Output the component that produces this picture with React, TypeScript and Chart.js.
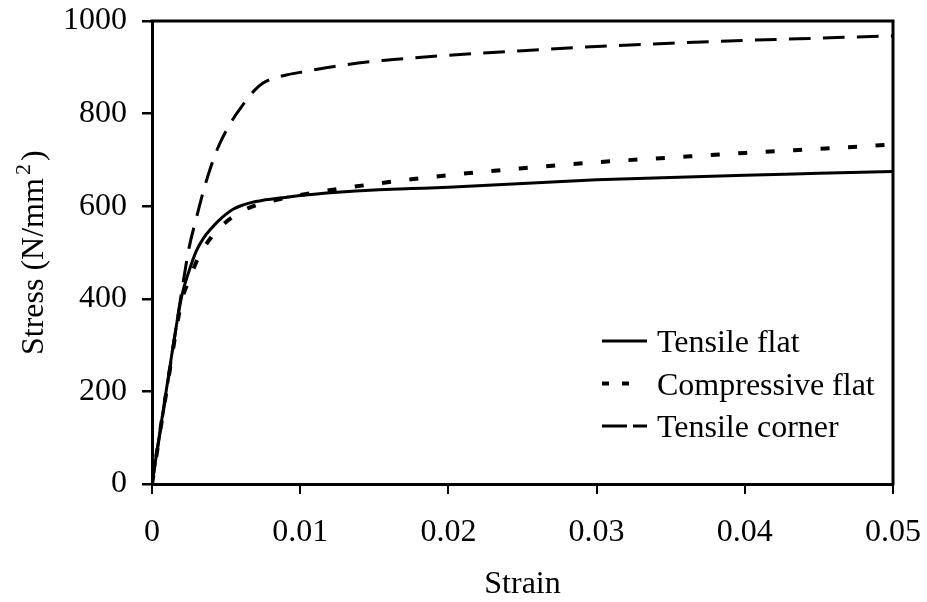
import React, { useEffect, useRef } from "react";
import { Chart, registerables } from "chart.js";

Chart.register(...registerables);

// ---- data ----
const strain = [0, 0.001, 0.002, 0.0025, 0.003, 0.0035, 0.004, 0.0045, 0.005, 0.0055, 0.006, 0.0065, 0.007, 0.0075, 0.008, 0.009, 0.01, 0.0125, 0.015, 0.0175, 0.02, 0.025, 0.03, 0.035, 0.04, 0.045, 0.05];
const tensileFlat = [0, 210, 405, 460, 504, 532, 552, 569, 583, 594, 601, 606, 610, 613, 615, 619, 623, 630, 635, 638, 641, 649, 657, 662, 667, 671, 675];
const compressiveFlat = [0, 205, 395, 440, 480, 510, 533, 551, 566, 578, 588, 596, 602, 607, 611, 618, 624, 637, 648, 658, 667, 682, 695, 705, 715, 724, 733];
const tensileCorner = [0, 205, 415, 510, 575, 636, 688, 730, 763, 790, 813, 835, 853, 866, 874, 883, 889, 903, 913, 920, 926, 936, 945, 952, 958, 963, 968];
const seriesNames = ["Tensile flat", "Compressive flat", "Tensile corner"];

const xTickValues = [0, 0.01, 0.02, 0.03, 0.04, 0.05];
const xTickLabels = ["0", "0.01", "0.02", "0.03", "0.04", "0.05"];
const yTickValues = [0, 200, 400, 600, 800, 1000];
const yTickLabels = ["0", "200", "400", "600", "800", "1000"];
const xTitle = "Strain";
const yTitleMain = "Stress (N/mm";
const yTitleSup = "2";
const yTitleEnd = ")";

const FONT = "Liberation Serif";

const seriesStyles = [
  { width: 3, dash: [] as number[], legendDash: [] as number[], legendLen: 45 },
  { width: 4, dash: [9, 18.5], legendDash: [7, 13], legendLen: 27 },
  { width: 3, dash: [21.7, 12.3], legendDash: [25, 6], legendLen: 45 },
];

const toPoints = (ys: number[]) => strain.map((x, i) => ({ x, y: ys[i] }));

const framePlugin = {
  id: "frame",
  afterDraw(chart: any) {
    const { ctx, chartArea } = chart;
    const { left, right, top, bottom } = chartArea;
    ctx.save();
    ctx.strokeStyle = "#000";
    ctx.lineWidth = 3;
    ctx.beginPath();
    ctx.moveTo(left - 1.5, top);
    ctx.lineTo(right, top);
    ctx.lineTo(right, bottom + 1.5);
    ctx.stroke();

    // y-axis title with superscript
    ctx.fillStyle = "#000";
    ctx.translate(43, 355);
    ctx.rotate(-Math.PI / 2);
    ctx.textBaseline = "alphabetic";
    ctx.textAlign = "left";
    ctx.font = `32px "${FONT}"`;
    ctx.fillText(yTitleMain, 0, 0);
    const w1 = ctx.measureText(yTitleMain).width;
    ctx.font = `22px "${FONT}"`;
    ctx.fillText(yTitleSup, w1 + 3, -13);
    const w2 = ctx.measureText(yTitleSup).width;
    ctx.font = `32px "${FONT}"`;
    ctx.fillText(yTitleEnd, w1 + w2 + 6, 0);
    ctx.restore();
  },
};

const legendPlugin = {
  id: "customLegend",
  afterDatasetsDraw(chart: any) {
    const { ctx, chartArea } = chart;
    const x0 = chartArea.right - 291;
    const baseY = 352;
    const step = 42.5;
    ctx.save();
    ctx.fillStyle = "#000";
    ctx.strokeStyle = "#000";
    ctx.font = `32px "${FONT}"`;
    ctx.textBaseline = "alphabetic";
    ctx.textAlign = "left";
    seriesNames.forEach((name, i) => {
      const by = baseY + i * step;
      const ly = by - 11;
      const st = seriesStyles[i];
      ctx.lineWidth = st.width;
      ctx.lineCap = "butt";
      ctx.setLineDash(st.legendDash);
      ctx.beginPath();
      ctx.moveTo(x0, ly);
      ctx.lineTo(x0 + st.legendLen, ly);
      ctx.stroke();
      ctx.setLineDash([]);
      ctx.fillText(name, x0 + 55, by);
    });
    ctx.restore();
  },
};

export default function App() {
  const canvasRef = useRef<HTMLCanvasElement | null>(null);

  useEffect(() => {
    if (!canvasRef.current) return;
    const allSeries = [tensileFlat, compressiveFlat, tensileCorner];
    const chart = new Chart(canvasRef.current, {
      type: "line",
      data: {
        datasets: allSeries.map((ys, i) => ({
          label: seriesNames[i],
          data: toPoints(ys),
          borderColor: "#000",
          backgroundColor: "#000",
          borderWidth: seriesStyles[i].width,
          borderDash: seriesStyles[i].dash,
          borderCapStyle: "butt" as const,
          pointRadius: 0,
          fill: false,
          cubicInterpolationMode: "monotone" as const,
        })),
      },
      options: {
        animation: false,
        responsive: false,
        devicePixelRatio: 1,
        layout: { padding: { top: 21, right: 34, bottom: 0, left: 0 } },
        plugins: {
          legend: { display: false },
          tooltip: { enabled: false },
        },
        scales: {
          x: {
            type: "linear",
            min: 0,
            max: 0.05,
            afterBuildTicks: (scale: any) => {
              scale.ticks = xTickValues.map((v) => ({ value: v }));
            },
            afterFit: (scale: any) => {
              scale.height = 118;
              scale.paddingLeft = 0;
              scale.paddingRight = 0;
            },
            ticks: {
              autoSkip: false,
              maxRotation: 0,
              padding: 19.5,
              color: "#000",
              font: { family: FONT, size: 32 },
              callback: (_v: any, i: number) => xTickLabels[i],
            },
            grid: {
              drawOnChartArea: false,
              drawTicks: true,
              tickLength: 10,
              color: "#000",
              lineWidth: 2,
            },
            border: { display: true, color: "#000", width: 3 },
            title: {
              display: true,
              text: xTitle,
              color: "#000",
              font: { family: FONT, size: 32 },
              padding: { top: 0, bottom: -1.4 },
            },
          },
          y: {
            type: "linear",
            min: 0,
            max: 1000,
            afterBuildTicks: (scale: any) => {
              scale.ticks = yTickValues.map((v) => ({ value: v }));
            },
            afterFit: (scale: any) => {
              scale.width = 152;
              scale.paddingTop = 0;
              scale.paddingBottom = 0;
            },
            ticks: {
              autoSkip: false,
              padding: 15,
              color: "#000",
              font: { family: FONT, size: 32 },
              callback: (_v: any, i: number) => yTickLabels[i],
            },
            grid: {
              drawOnChartArea: false,
              drawTicks: true,
              tickLength: 10,
              color: "#000",
              lineWidth: 2.5,
            },
            border: { display: true, color: "#000", width: 3 },
          },
        },
      },
      plugins: [framePlugin, legendPlugin],
    });
    return () => chart.destroy();
  }, []);

  return (
    <div style={{ position: "absolute", left: 0, top: 0, width: 927, height: 602, background: "#fff" }}>
      <canvas ref={canvasRef} width={927} height={602} style={{ display: "block" }} />
    </div>
  );
}
